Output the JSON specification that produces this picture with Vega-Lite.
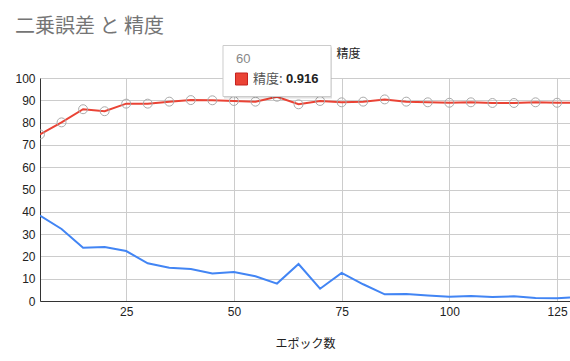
{
  "$schema": "https://vega.github.io/schema/vega-lite/v6.json",
  "autosize": {"type": "none"},
  "padding": {"left": 40, "top": 78, "right": 0, "bottom": 60},
  "width": 530,
  "height": 223,
  "title": {
    "text": "二乗誤差 と 精度",
    "anchor": "start",
    "frame": "group",
    "dx": -25,
    "offset": 8,
    "fontSize": 20,
    "fontWeight": "normal",
    "color": "#757575",
    "font": "Noto Sans CJK JP"
  },
  "datasets": {
    "metrics": [
      {"epoch": 5, "loss": 38.3, "acc": 74.7},
      {"epoch": 10, "loss": 32.3, "acc": 80.1},
      {"epoch": 15, "loss": 23.9, "acc": 86.0},
      {"epoch": 20, "loss": 24.2, "acc": 85.1},
      {"epoch": 25, "loss": 22.4, "acc": 88.5},
      {"epoch": 30, "loss": 16.9, "acc": 88.5},
      {"epoch": 35, "loss": 14.9, "acc": 89.4},
      {"epoch": 40, "loss": 14.3, "acc": 90.1},
      {"epoch": 45, "loss": 12.3, "acc": 90.0},
      {"epoch": 50, "loss": 13.0, "acc": 89.7},
      {"epoch": 55, "loss": 11.1, "acc": 89.4},
      {"epoch": 60, "loss": 7.8, "acc": 91.6},
      {"epoch": 65, "loss": 16.6, "acc": 88.2},
      {"epoch": 70, "loss": 5.5, "acc": 89.7},
      {"epoch": 75, "loss": 12.6, "acc": 89.1},
      {"epoch": 80, "loss": 7.5, "acc": 89.4},
      {"epoch": 85, "loss": 3.0, "acc": 90.4},
      {"epoch": 90, "loss": 3.1, "acc": 89.4},
      {"epoch": 95, "loss": 2.5, "acc": 89.1},
      {"epoch": 100, "loss": 1.9, "acc": 88.9},
      {"epoch": 105, "loss": 2.2, "acc": 89.1},
      {"epoch": 110, "loss": 1.8, "acc": 88.8},
      {"epoch": 115, "loss": 2.1, "acc": 88.8},
      {"epoch": 120, "loss": 1.3, "acc": 89.1},
      {"epoch": 125, "loss": 1.2, "acc": 88.9},
      {"epoch": 128, "loss": 1.6, "acc": 88.9}
    ],
    "hover": [
      {"epoch": 60, "series": "精度:", "value": "0.916"}
    ],
    "legend": [
      {"epoch": 60, "loss_label": "二乗誤差", "acc_label": "精度"}
    ]
  },
  "data": {"name": "metrics"},
  "layer": [
    {
      "mark": {"type": "line", "strokeWidth": 2, "clip": true, "color": "#4285f4"},
      "encoding": {
        "x": {"field": "epoch", "type": "quantitative"},
        "y": {"field": "loss", "type": "quantitative"}
      }
    },
    {
      "mark": {"type": "line", "strokeWidth": 2, "clip": true, "color": "#ea4335"},
      "encoding": {
        "x": {"field": "epoch", "type": "quantitative"},
        "y": {"field": "acc", "type": "quantitative"}
      }
    },
    {
      "transform": [{"filter": "datum.epoch <= 125"}],
      "mark": {"type": "point", "filled": false, "stroke": "#aaaaaa", "strokeWidth": 1, "size": 80, "opacity": 1, "clip": true},
      "encoding": {
        "x": {"field": "epoch", "type": "quantitative"},
        "y": {"field": "acc", "type": "quantitative"}
      }
    },
    {
      "data": {"name": "legend"},
      "mark": {"type": "point", "shape": "M-1,0L1,0", "size": 400, "filled": false, "stroke": "#4285f4", "strokeWidth": 2, "opacity": 1, "xOffset": -30, "yOffset": -24},
      "encoding": {
        "x": {"field": "epoch", "type": "quantitative"},
        "y": {"datum": 100}
      }
    },
    {
      "data": {"name": "legend"},
      "mark": {"type": "text", "align": "left", "baseline": "middle", "dx": -16, "dy": -24, "fontSize": 12, "color": "#222222", "font": "Noto Sans CJK JP"},
      "encoding": {
        "x": {"field": "epoch", "type": "quantitative"},
        "y": {"datum": 100},
        "text": {"field": "loss_label"}
      }
    },
    {
      "data": {"name": "legend"},
      "mark": {"type": "point", "shape": "M-1,0L1,0", "size": 400, "filled": false, "stroke": "#ea4335", "strokeWidth": 2, "opacity": 1, "xOffset": 40, "yOffset": -24},
      "encoding": {
        "x": {"field": "epoch", "type": "quantitative"},
        "y": {"datum": 100}
      }
    },
    {
      "data": {"name": "legend"},
      "mark": {"type": "text", "align": "left", "baseline": "middle", "dx": 59.5, "dy": -24, "fontSize": 12, "color": "#222222", "font": "Noto Sans CJK JP"},
      "encoding": {
        "x": {"field": "epoch", "type": "quantitative"},
        "y": {"datum": 100},
        "text": {"field": "acc_label"}
      }
    },
    {
      "data": {"name": "hover"},
      "mark": {"type": "rect", "width": 108, "height": 51, "fill": "#000000", "opacity": 0.12, "xOffset": 1, "yOffset": -5},
      "encoding": {
        "x": {"field": "epoch", "type": "quantitative"},
        "y": {"datum": 100}
      }
    },
    {
      "data": {"name": "hover"},
      "mark": {"type": "rect", "width": 108, "height": 51, "fill": "#ffffff", "stroke": "#cccccc", "strokeWidth": 1, "yOffset": -7},
      "encoding": {
        "x": {"field": "epoch", "type": "quantitative"},
        "y": {"datum": 100}
      }
    },
    {
      "data": {"name": "hover"},
      "mark": {"type": "text", "align": "left", "baseline": "middle", "dx": -41, "dy": -19, "fontSize": 13, "color": "#888888", "font": "Liberation Sans"},
      "encoding": {
        "x": {"field": "epoch", "type": "quantitative"},
        "y": {"datum": 100},
        "text": {"field": "epoch"}
      }
    },
    {
      "data": {"name": "hover"},
      "mark": {"type": "point", "shape": "square", "filled": true, "size": 144, "fill": "#ea4335", "stroke": "#c5221f", "strokeWidth": 1, "opacity": 1, "xOffset": -35.5, "yOffset": 1},
      "encoding": {
        "x": {"field": "epoch", "type": "quantitative"},
        "y": {"datum": 100}
      }
    },
    {
      "data": {"name": "hover"},
      "mark": {"type": "text", "align": "left", "baseline": "middle", "dx": -24, "dy": 1, "fontSize": 13, "color": "#555555", "font": "Noto Sans CJK JP"},
      "encoding": {
        "x": {"field": "epoch", "type": "quantitative"},
        "y": {"datum": 100},
        "text": {"field": "series"}
      }
    },
    {
      "data": {"name": "hover"},
      "mark": {"type": "text", "align": "left", "baseline": "middle", "dx": 9, "dy": 1, "fontSize": 13, "fontWeight": "bold", "color": "#222222", "font": "Liberation Sans"},
      "encoding": {
        "x": {"field": "epoch", "type": "quantitative"},
        "y": {"datum": 100},
        "text": {"field": "value"}
      }
    }
  ],
  "encoding": {
    "x": {
      "type": "quantitative",
      "scale": {"domain": [5, 128], "nice": false, "zero": false},
      "axis": {"values": [25, 50, 75, 100, 125], "title": "エポック数", "titlePadding": 21}
    },
    "y": {
      "type": "quantitative",
      "scale": {"domain": [0, 100], "nice": false},
      "axis": {"values": [0, 10, 20, 30, 40, 50, 60, 70, 80, 90, 100], "title": null}
    }
  },
  "config": {
    "view": {"stroke": null},
    "font": "Liberation Sans, Noto Sans CJK JP, sans-serif",
    "axis": {
      "grid": true,
      "gridColor": "#cccccc",
      "gridWidth": 1,
      "gridOpacity": 1,
      "ticks": false,
      "domainColor": "#333333",
      "domainWidth": 1,
      "labelFontSize": 12,
      "labelColor": "#222222",
      "labelFont": "Liberation Sans",
      "labelPadding": 5,
      "titleFontSize": 12,
      "titleFontWeight": "normal",
      "titleColor": "#222222",
      "titleFont": "Noto Sans CJK JP"
    },
    "axisX": {"labelBaseline": "top"},
    "axisY": {"labelBaseline": "middle"}
  }
}
